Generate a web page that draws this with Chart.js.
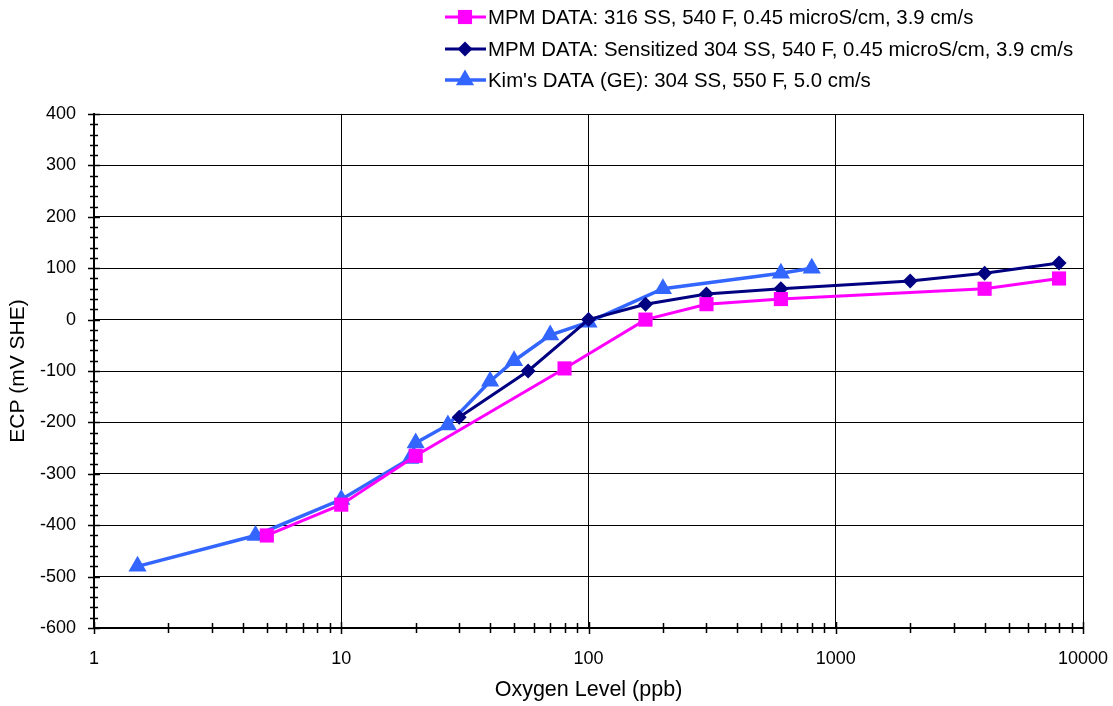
<!DOCTYPE html>
<html>
<head>
<meta charset="utf-8">
<script src="https://cdn.jsdelivr.net/npm/chart.js@4"></script>
<style>
  body { margin: 0; background: #fff; }
  #wrap { width: 1113px; height: 706px; }
</style>
</head>
<body>
<div id="wrap"><canvas id="ecp" width="1113" height="706"></canvas></div>
<script>
// oxygen (ppb) and ECP (mV SHE)
var mpm316X = [5, 10, 20, 80, 170, 300, 600, 4000, 8000];
var mpm316Y = [-420, -360, -265, -95, 0, 30, 40, 60, 80];

var sens304X = [30, 57, 100, 170, 300, 600, 2000, 4000, 8000];
var sens304Y = [-190, -100, 0, 30, 50, 60, 75, 90, 110];

var kimX = [1.5, 4.5, 10, 19, 20, 27, 40, 50, 70, 100, 200, 600, 800];
var kimY = [-480, -420, -350, -270, -240, -205, -120, -80, -30, -5, 60, 90, 100];

var seriesNames = [
  "MPM DATA: 316 SS, 540 F, 0.45 microS/cm, 3.9 cm/s",
  "MPM DATA: Sensitized 304 SS, 540 F, 0.45 microS/cm, 3.9 cm/s",
  "Kim's DATA (GE): 304 SS, 550 F, 5.0 cm/s"
];
var xDecades = [1, 10, 100, 1000, 10000];
var xTitle = 'Oxygen Level (ppb)';
var yTitle = 'ECP (mV SHE)';

function pts(xs, ys) {
  return xs.map(function (x, i) { return { x: x, y: ys[i] }; });
}

var FONT = "'Liberation Sans', Arial, sans-serif";

// excel-style crossing ticks, axis titles, legend at the top
var extras = {
  id: 'extras',
  afterDraw: function (chart) {
    var ctx = chart.ctx, a = chart.chartArea;
    var xs = chart.scales.x, ys = chart.scales.y;
    ctx.save();
    ctx.strokeStyle = '#000';
    ctx.lineWidth = 1.5;
    ctx.beginPath();
    for (var v = -600; v <= 400; v += 20) {
      var py = Math.round(ys.getPixelForValue(v)) + 0.5;
      var len = (v % 100 === 0) ? 6 : 4;
      ctx.moveTo(a.left - len, py);
      ctx.lineTo(a.left + len, py);
    }
    xDecades.forEach(function (d) {
      for (var k = 1; k <= 9; k++) {
        var val = d * k;
        if (val > 10000) break;
        var px = Math.round(xs.getPixelForValue(val)) + 0.5;
        var l = k === 1 ? 6 : 5;
        ctx.moveTo(px, a.bottom - l);
        ctx.lineTo(px, a.bottom + l);
      }
    });
    ctx.stroke();

    // axis titles
    ctx.fillStyle = '#000';
    ctx.textAlign = 'center';
    ctx.textBaseline = 'middle';
    ctx.font = '21.5px ' + FONT;
    ctx.fillText(xTitle, (a.left + a.right) / 2, 690);
    ctx.save();
    ctx.translate(18, (a.top + a.bottom) / 2);
    ctx.rotate(-Math.PI / 2);
    ctx.font = '21px ' + FONT;
    ctx.fillText(yTitle, 0, 0);
    ctx.restore();

    // legend
    ctx.textAlign = 'left';
    ctx.font = '20.4px ' + FONT;
    var rows = [17, 49, 80];
    chart.data.datasets.forEach(function (ds, i) {
      var y = rows[i];
      ctx.strokeStyle = ds.borderColor;
      ctx.lineWidth = ds.borderWidth;
      ctx.beginPath();
      ctx.moveTo(445, y);
      ctx.lineTo(486, y);
      ctx.stroke();
      ctx.fillStyle = ds.backgroundColor;
      Chart.helpers.drawPoint(ctx, {
        pointStyle: ds.pointStyle,
        radius: ds.pointRadius,
        rotation: 0,
        borderWidth: 0
      }, 465, y);
      ctx.fillStyle = '#000';
      ctx.fillText(ds.label, 488, y + 1);
    });
    ctx.restore();
  }
};

new Chart(document.getElementById('ecp'), {
  type: 'line',
  data: {
    datasets: [{
        label: seriesNames[0],
        data: pts(mpm316X, mpm316Y),
        borderColor: '#FF00FF',
        backgroundColor: '#FF00FF',
        borderWidth: 3,
        pointStyle: 'rect',
        pointRadius: 10,
        pointBorderWidth: 0,
        fill: false
      }, {
        label: seriesNames[1],
        data: pts(sens304X, sens304Y),
        borderColor: '#000080',
        backgroundColor: '#000080',
        borderWidth: 3,
        pointStyle: 'rectRot',
        pointRadius: 7.5,
        pointBorderWidth: 0,
        fill: false
      }, {
        label: seriesNames[2],
        data: pts(kimX, kimY),
        borderColor: '#3366FF',
        backgroundColor: '#3366FF',
        borderWidth: 3.5,
        pointStyle: 'triangle',
        pointRadius: 10.5,
        pointBorderWidth: 0,
        fill: false
      }
    ]
  },
  plugins: [extras],
  options: {
    responsive: false,
    animation: false,
    layout: { padding: { top: 114, right: 30, left: 39, bottom: 33 } },
    plugins: {
      legend: { display: false },
      tooltip: { enabled: false }
    },
    scales: {
      x: {
        type: 'logarithmic',
        min: 1,
        max: 10000,
        afterBuildTicks: function (scale) {
          scale.ticks = xDecades.map(function (d) { return { value: d }; });
        },
        afterFit: function (scale) {
          scale.height = 45;
          scale.paddingLeft = 0;
          scale.paddingRight = 0;
        },
        ticks: {
          autoSkip: false,
          maxRotation: 0,
          color: '#000',
          padding: 20,
          font: { family: FONT, size: 18 },
          callback: function (v) { return String(v); }
        },
        grid: { color: '#000', lineWidth: 1, drawTicks: false },
        border: { color: '#000', width: 2 }
      },
      y: {
        min: -600,
        max: 400,
        afterFit: function (scale) {
          scale.width = 55;
          scale.paddingTop = 0;
          scale.paddingBottom = 0;
        },
        ticks: {
          stepSize: 100,
          color: '#000',
          padding: 18,
          font: { family: FONT, size: 18 }
        },
        grid: { color: '#000', lineWidth: 1, drawTicks: false },
        border: { color: '#000', width: 2 }
      }
    }
  }
});
</script>
</body>
</html>
